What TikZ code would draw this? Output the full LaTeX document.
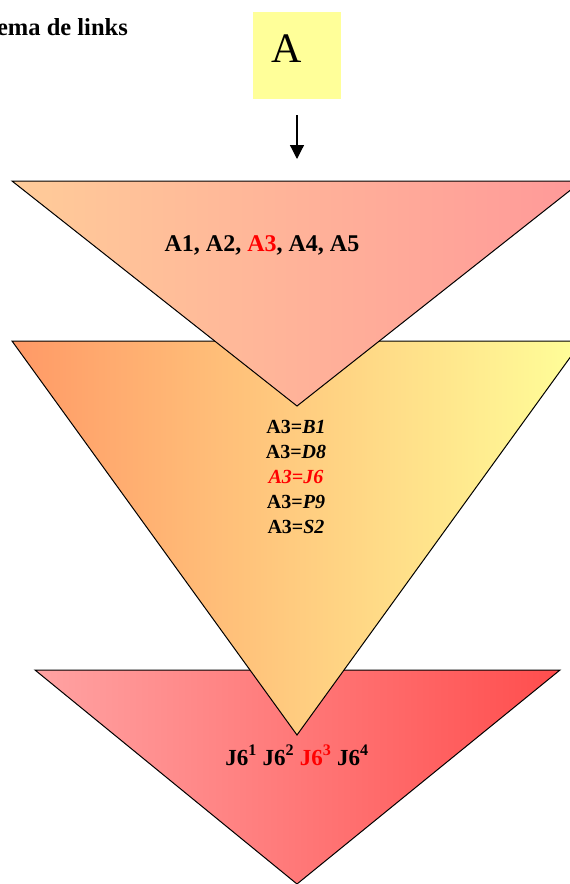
\documentclass[tikz,border=0pt]{standalone}
\usepackage{fontspec}
\setmainfont{Liberation Serif}
\usetikzlibrary{arrows.meta}
\definecolor{peach}{HTML}{FFCC99}
\definecolor{rosy}{HTML}{FF9999}
\definecolor{apricot}{HTML}{FF9966}
\definecolor{paleyellow}{HTML}{FFFF99}
\definecolor{pinklt}{HTML}{FFA3A3}
\definecolor{redish}{HTML}{FF4D4D}

\begin{document}
\begin{tikzpicture}[x=1pt, y=-1pt, >={Triangle[length=14pt, width=14pt]}, tri/.style={draw, line width=1pt}, title/.style={font=\fontsize{24.5}{28}\selectfont\bfseries}, rowtxt/.style={font=\fontsize{24}{28}\selectfont\bfseries}, listtxt/.style={font=\fontsize{20}{25}\selectfont\bfseries, align=center}, jtxt/.style={font=\fontsize{23}{27}\selectfont\bfseries}]
	\useasboundingbox (0,0) rectangle (570,884);
	\draw[tri, left color=pinklt, right color=redish] (35,670) -- (560,670) -- (297,884) -- cycle;
	\draw[tri, left color=apricot, right color=paleyellow] (12,341) -- (582,341) -- (297,735) -- cycle;
	\draw[tri, left color=peach, right color=rosy] (12,181) -- (582,181) -- (297,406) -- cycle;
	\node[title, anchor=base east, inner sep=0pt] (title) at (128,35) {Esquema de links};
	\node[fill=paleyellow, minimum width=88pt, minimum height=87pt, inner sep=0pt] (boxA) at (297,55.5) {};
	\node[font=\fontsize{42}{48}\selectfont, anchor=base, inner sep=0pt] (lblA) at (287,62) {A};
	\coordinate (tipA) at (297,159);
	\draw[->, line width=1.2pt, shorten <=16pt] (boxA.south) -- (tipA);
	\node[rowtxt, anchor=base, inner sep=0pt] (rowA) at (262,251) {A1, A2, \textcolor{red}{A3}, A4, A5};
	\node[listtxt, inner sep=0pt] (links) at (296,477) {A3=\textit{B1}\\A3=\textit{D8}\\\textcolor{red}{\textit{A3=J6}}\\A3=\textit{P9}\\A3=\textit{S2}};
	\node[jtxt, anchor=base, inner sep=0pt] (rowJ) at (297,765) {J6\textsuperscript{1} J6\textsuperscript{2} \textcolor{red}{J6\textsuperscript{3}} J6\textsuperscript{4}};
\end{tikzpicture}
\end{document}
